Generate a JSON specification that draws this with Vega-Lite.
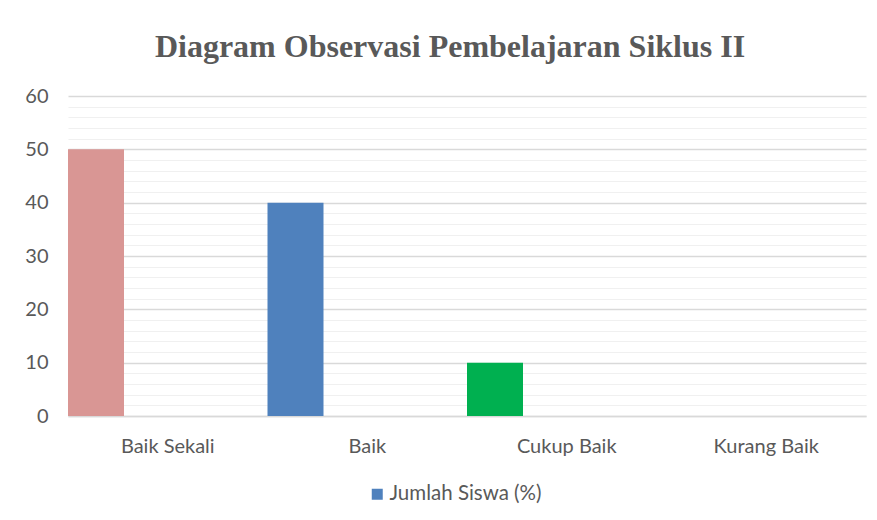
{
  "$schema": "https://vega.github.io/schema/vega-lite/v6.json",
  "width": 798,
  "height": 320,
  "autosize": "none",
  "padding": {"left": 68, "top": 96, "right": 11, "bottom": 104},
  "background": "white",
  "title": {
    "text": "Diagram Observasi Pembelajaran Siklus II",
    "font": "Liberation Serif",
    "fontSize": 32,
    "fontWeight": "bold",
    "color": "#595959",
    "anchor": "middle",
    "dx": -17,
    "offset": 22
  },
  "data": {
    "values": [
      {"kategori": "Baik Sekali", "seri": "Jumlah Siswa (%)", "nilai": 50},
      {"kategori": "Baik", "seri": "Jumlah Siswa (%)", "nilai": 40},
      {"kategori": "Cukup Baik", "seri": "Jumlah Siswa (%)", "nilai": 10},
      {"kategori": "Kurang Baik", "seri": "Jumlah Siswa (%)", "nilai": 0}
    ]
  },
  "config": {
    "view": {"stroke": null},
    "axis": {"labelFont": "Lato", "labelColor": "#595959", "labelFontSize": 20}
  },
  "encoding": {
    "x": {
      "field": "kategori",
      "type": "nominal",
      "sort": ["Baik Sekali", "Baik", "Cukup Baik", "Kurang Baik"],
      "scale": {"domain": ["Baik Sekali", "Baik", "Cukup Baik", "Kurang Baik"], "paddingInner": 0, "paddingOuter": 0},
      "axis": {
        "title": null,
        "labelAngle": 0,
        "ticks": false,
        "domain": true,
        "domainColor": "#d9d9d9",
        "domainWidth": 1.5,
        "labelPadding": 20,
        "grid": false
      }
    },
    "xOffset": {
      "field": "seri",
      "type": "nominal",
      "scale": {"domain": ["Jumlah Siswa (%)", "_b", "_c"], "paddingInner": 0.2195, "paddingOuter": 0}
    },
    "y": {
      "field": "nilai",
      "type": "quantitative",
      "scale": {"domain": [0, 60], "nice": false},
      "axis": {
        "title": null,
        "domain": false,
        "ticks": false,
        "labelPadding": 20,
        "values": [0,2,4,6,8,10,12,14,16,18,20,22,24,26,28,30,32,34,36,38,40,42,44,46,48,50,52,54,56,58,60],
        "labelExpr": "datum.value % 10 === 0 ? datum.label : ''",
        "gridColor": {"condition": {"test": "datum.value % 10 === 0", "value": "#d9d9d9"}, "value": "#f0f0f0"},
        "gridWidth": {"condition": {"test": "datum.value % 10 === 0", "value": 1.5}, "value": 1.2}
      }
    }
  },
  "layer": [
    {
      "mark": {"type": "bar"},
      "encoding": {
        "color": {
          "field": "kategori",
          "type": "nominal",
          "scale": {
            "domain": ["Baik Sekali", "Baik", "Cukup Baik", "Kurang Baik"],
            "range": ["#D99694", "#4F81BD", "#00B050", "#8064A2"]
          },
          "legend": null
        }
      }
    },
    {
      "transform": [{"filter": "datum.kategori === 'Kurang Baik'"}],
      "mark": {"type": "bar"},
      "encoding": {
        "fill": {
          "field": "seri",
          "type": "nominal",
          "scale": {"domain": ["Jumlah Siswa (%)"], "range": ["#4F81BD"]},
          "legend": {
            "title": null,
            "orient": "none",
            "legendX": 299,
            "legendY": 388,
            "symbolType": "square",
            "symbolSize": 121,
            "symbolStrokeWidth": 0,
            "labelFont": "Lato",
            "labelFontSize": 20.5,
            "labelColor": "#595959",
            "labelOffset": 2
          }
        }
      }
    }
  ]
}
